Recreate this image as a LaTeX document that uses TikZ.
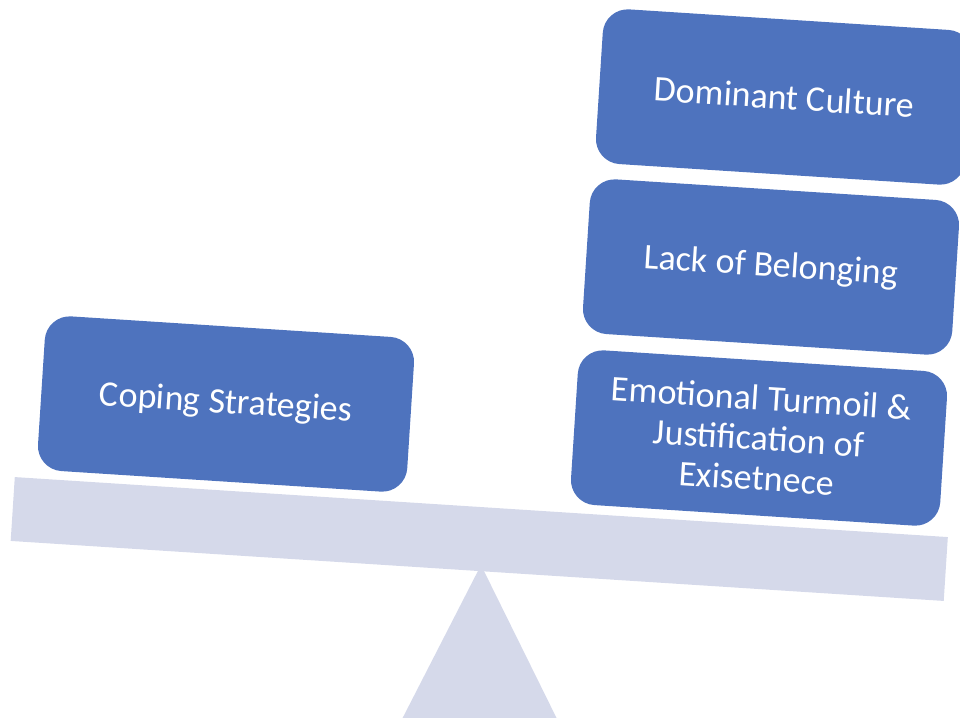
\documentclass[tikz,border=0pt]{standalone}
\usepackage{fontspec}
\setmainfont{Carlito}
\definecolor{boxblue}{HTML}{4E73BE}
\definecolor{beamgray}{HTML}{D5D9EA}
\begin{document}
\begin{tikzpicture}[x=1pt,y=-1pt,
  block/.style={fill=boxblue, draw=none, rounded corners=25pt, minimum width=370pt, minimum height=155pt,
    text=white, align=center, inner sep=4pt, rotate=-3.68,
    font=\fontsize{36}{40}\selectfont},
  beamstyle/.style={fill=beamgray, draw=none, minimum width=935pt, minimum height=64pt, inner sep=0pt, rotate=-3.68}]
\useasboundingbox (0,0) rectangle (960,717);
\begin{scope}
\clip (0,0) rectangle (960,717);
\fill[beamgray] (481,565) -- (560,725) -- (399,725) -- cycle;
\node[beamstyle] (beam) at (479.25,539) {};
\node[block] (coping) at (226,404) {Coping Strategies};
\node[block] (emot) at (759,438) {Emotional Turmoil \&\\Justification of\\Exisetnece};
\node[block] (lack) at (771,267) {Lack of Belonging};
\node[block] (dom) at (784,97) {Dominant Culture};
\end{scope}
\end{tikzpicture}
\end{document}
